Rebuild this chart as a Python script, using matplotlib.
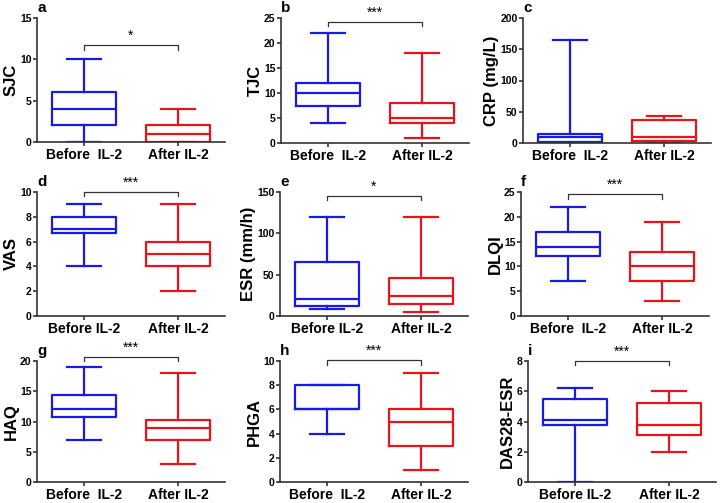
import matplotlib
matplotlib.use("Agg")
from matplotlib import pyplot as plt

plt.rcParams['font.family'] = ['Liberation Sans', 'DejaVu Sans']
plt.rcParams['font.weight'] = 'bold'

# group names
groups = ["Before  IL-2", "After IL-2"]

# panel letters, y labels, axis limits and tick step
letters = ["a", "b", "c", "d", "e", "f", "g", "h", "i"]
ylabels = ["SJC", "TJC", "CRP (mg/L)", "VAS", "ESR (mm/h)", "DLQI", "HAQ", "PHGA", "DAS28-ESR"]
ymax = [15, 25, 200, 10, 150, 25, 20, 10, 8]
ystep = [5, 5, 50, 2, 50, 5, 5, 2, 2]
xnames = [groups, groups, groups,
          ["Before IL-2", "After IL-2"], ["Before IL-2", "After IL-2"], groups,
          groups, groups, ["Before IL-2", "After IL-2"]]

# box stats: (min, q1, median, q3, max)
before = [(0, 2, 4, 6, 10),
          (4, 7.5, 10, 12, 22),
          (0, 2, 10, 15, 165),
          (4, 6.7, 7, 8, 9),
          (8, 12, 20, 65, 120),
          (7, 12, 14, 17, 22),
          (7, 10.8, 12, 14.3, 19),
          (4, 6, 6, 8, 8),
          (0, 3.8, 4.1, 5.5, 6.2)]
after = [(0, 0, 1, 2, 4),
         (1, 4, 5, 8, 18),
         (1, 3, 10, 37, 44),
         (2, 4, 5, 6, 9),
         (5, 15, 24, 46, 120),
         (3, 7, 10, 13, 19),
         (3, 7, 9, 10.3, 18),
         (1, 3, 5, 6, 9),
         (2, 3.1, 3.75, 5.2, 6)]

# significance marks and bracket height
stars = ["*", "***", "", "***", "*", "***", "***", "***", "***"]
bracket_y = [11.7, 24.2, None, 10.0, 145, 24.5, 20.7, 10.05, 8.0]

# axes left edges / tops / bottoms in pixels
W, H = 720, 503
lefts = [37, 281, 523, 37, 280, 521, 37, 280, 528]
tops = [18, 18, 18, 192, 192, 192, 361, 361, 361]
bottoms = [142, 143, 143, 316, 316, 316, 482, 482, 482]
axw = 188

blue = '#1a1ae6'
red = '#e8141c'

fig = plt.figure(figsize=(W / 100, H / 100), dpi=100)

def to_stats(t):
    return dict(whislo=t[0], q1=t[1], med=t[2], q3=t[3], whishi=t[4], fliers=[])

for i in range(9):
    ax = fig.add_axes([lefts[i] / W, 1 - bottoms[i] / H, axw / W, (bottoms[i] - tops[i]) / H])
    for k, (st, col) in enumerate([(before[i], blue), (after[i], red)]):
        lp = dict(color=col, linewidth=1.6)
        ax.bxp([to_stats(st)], positions=[k], widths=0.68, capwidths=0.36,
               showfliers=False, boxprops=lp, medianprops=lp,
               whiskerprops=lp, capprops=lp)
    ax.set_xlim(-0.5, 1.5)
    ax.set_ylim(0, ymax[i])
    ax.set_yticks(range(0, ymax[i] + 1, ystep[i]))
    ax.set_xticks([0, 1])
    ax.set_xticklabels(xnames[i], fontsize=10, fontweight='bold')
    for lab in ax.get_yticklabels():
        lab.set_fontsize(7.5)
        lab.set_fontweight('bold')
    ax.set_ylabel(ylabels[i], fontsize=12, fontweight='bold', labelpad=1)
    for s in ['top', 'right']:
        ax.spines[s].set_visible(False)
    for s in ['left', 'bottom']:
        ax.spines[s].set_linewidth(1.2)
        ax.spines[s].set_color('#333333')
    ax.tick_params(axis='y', direction='out', length=3, width=1.2, color='#333333', pad=1)
    ax.tick_params(axis='x', direction='out', length=3, width=1.2, color='#333333', pad=1.5)
    ax.text(0.0, 1.025, letters[i], transform=ax.transAxes, fontsize=11,
            fontweight='bold', ha='left', va='bottom')
    if stars[i]:
        y = bracket_y[i]
        d = ymax[i] * 0.035
        ax.plot([0, 0, 1, 1], [y - d, y, y, y - d], color='#333333', linewidth=0.9,
                clip_on=False)
        ax.text(0.5, y + ymax[i] * 0.02, stars[i], ha='center', va='bottom',
                fontsize=10, fontweight='normal')

plt.savefig('out.png', dpi=100)
